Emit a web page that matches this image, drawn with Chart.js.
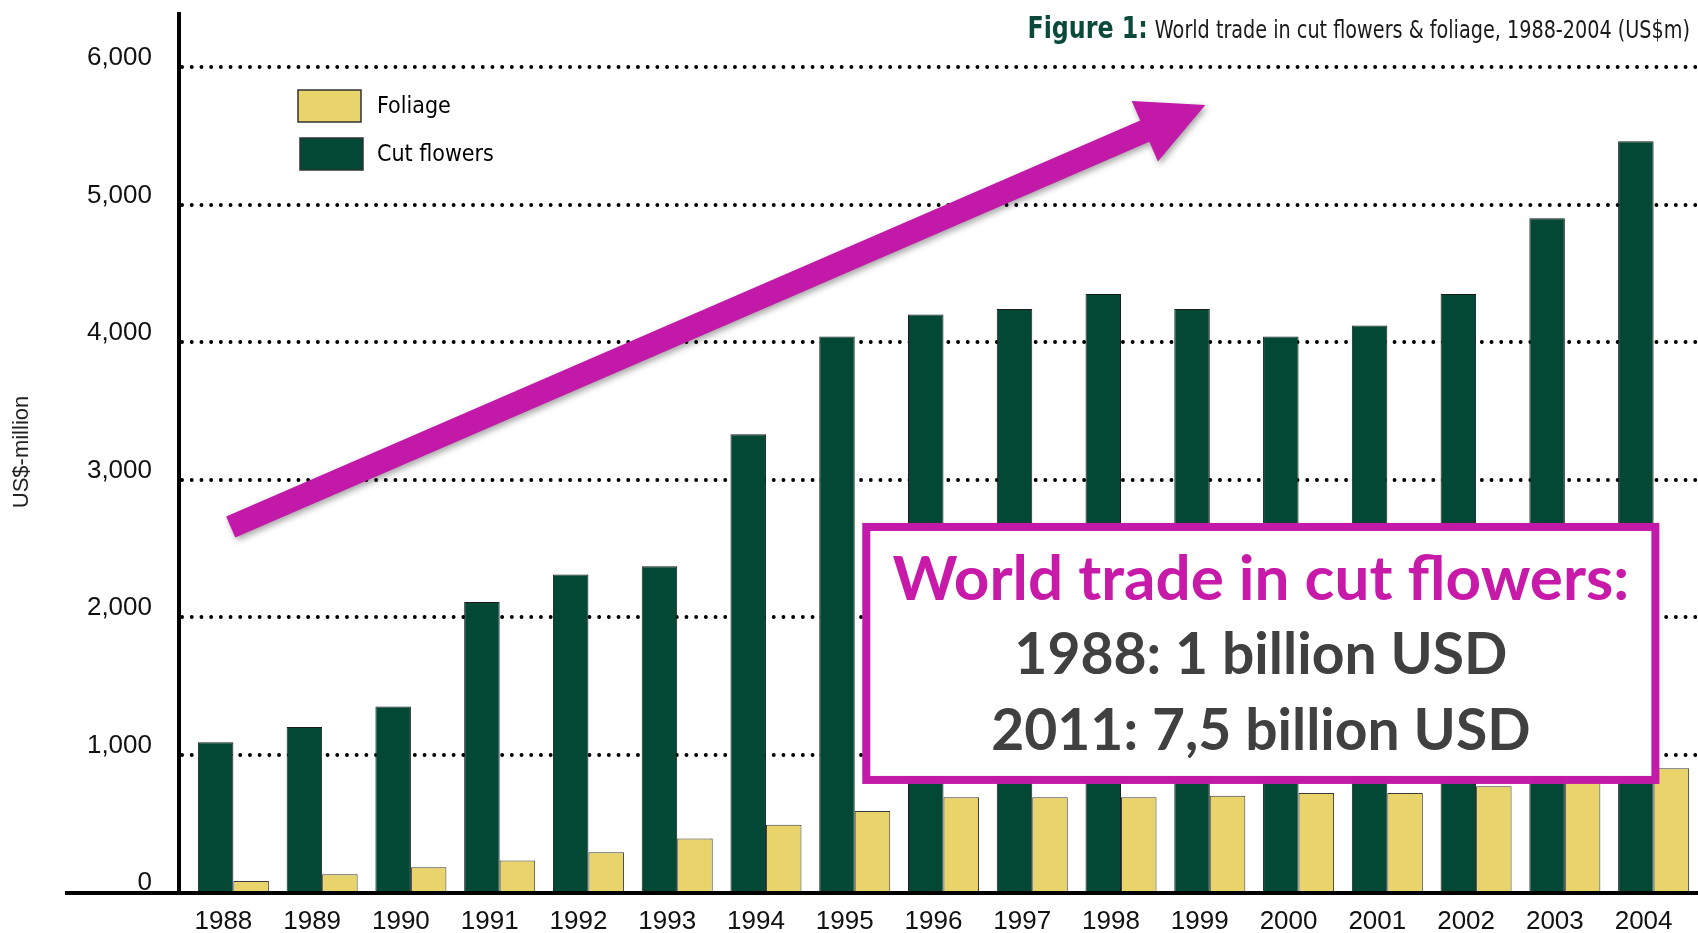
<!DOCTYPE html>
<html>
<head>
<meta charset="utf-8">
<title>World trade in cut flowers &amp; foliage</title>
<script src="https://cdn.jsdelivr.net/npm/chart.js@4.4.1/dist/chart.umd.min.js"></script>
<style>
  html, body { margin: 0; padding: 0; background: #fff; }
  #wrap { position: relative; width: 1698px; height: 933px; }
</style>
</head>
<body>
<div id="wrap"><canvas id="flowerChart"></canvas></div>
<script>
// ---- data (US$ million) ----
const years = ['1988', '1989', '1990', '1991', '1992', '1993', '1994', '1995', '1996',
  '1997', '1998', '1999', '2000', '2001', '2002', '2003', '2004'];
const cutFlowers = [1090, 1200, 1350, 2110, 2310, 2370, 3330, 4040, 4200,
  4240, 4350, 4240, 4040, 4120, 4350, 4900, 5460];
const foliage = [80, 130, 180, 230, 290, 390, 490, 590, 690,
  690, 690, 700, 720, 720, 770, 830, 900];
const yTicks = [0, 1000, 2000, 3000, 4000, 5000, 6000];

const titleBold = 'Figure 1:';
const titleText = 'World trade in cut flowers & foliage, 1988-2004 (US$m)';
const boxLines = ['World trade in cut flowers:', '1988: 1 billion USD', '2011: 7,5 billion USD'];

// annotation anchors in data units: [category index, US$m]
const arrowFrom = [-0.03, 2655];
const arrowTo = [10.95, 5724];
const boxFrom = [7.13, 2655];
const boxTo = [16.02, 815];

const GREEN = '#034834';
const YELLOW = '#e8d46a';
const MAGENTA = '#c219a8';
const NARROW = "'Liberation Sans Narrow', 'DejaVu Sans Condensed', sans-serif";

// arrow, framed note, title, legend and the two heavy axis lines
const overlay = {
  id: 'overlay',
  beforeDatasetsDraw(chart) {
    const { ctx, chartArea: a, scales: { y } } = chart;
    const axisX = a.left - 10;
    ctx.save();
    ctx.strokeStyle = '#000';
    ctx.lineWidth = 3.8;
    ctx.lineCap = 'round';
    ctx.setLineDash([0.1, 9.6]);
    y.ticks.forEach((t) => {
      if (t.value === 0) return;
      const py = Math.round(y.getPixelForValue(t.value));
      ctx.beginPath();
      ctx.moveTo(axisX + 3, py);
      ctx.lineTo(a.right, py);
      ctx.stroke();
    });
    ctx.restore();
  },
  afterDatasetsDraw(chart) {
    const { ctx, chartArea: a, scales: { x, y } } = chart;
    const axisX = a.left - 10;
    const zeroY = y.getPixelForValue(0);

    ctx.save();
    // axes
    ctx.fillStyle = '#000';
    ctx.fillRect(axisX - 2, a.top, 4, zeroY - a.top);
    ctx.fillRect(a.left - 124, zeroY - 1, chart.width, 4);

    // legend (Foliage listed first)
    const items = chart.data.datasets.slice().reverse();
    items.forEach((ds, i) => {
      const bx = a.left + 109 + i * 2;
      const by = a.top + 78 + i * 48;
      ctx.fillStyle = ds.backgroundColor;
      ctx.fillRect(bx, by, 63, 32);
      ctx.strokeStyle = '#333';
      ctx.lineWidth = 1.5;
      ctx.strokeRect(bx, by, 63, 32);
      ctx.fillStyle = '#000';
      ctx.font = '23px ' + NARROW;
      ctx.textAlign = 'left';
      ctx.textBaseline = 'middle';
      ctx.fillText(ds.label, a.left + 188, by + 17);
    });

    // figure title, top right
    ctx.textBaseline = 'middle';
    ctx.textAlign = 'right';
    const tx = chart.width - 8;
    ctx.font = '24px ' + NARROW;
    const w = ctx.measureText(titleText).width * 0.89;
    ctx.save();
    ctx.translate(tx, 32);
    ctx.scale(0.89, 1);
    ctx.fillStyle = '#1a1a1a';
    ctx.fillText(titleText, 0, 0);
    ctx.restore();
    ctx.save();
    ctx.translate(tx - w - 7, 30);
    ctx.scale(0.88, 1);
    ctx.fillStyle = '#0b4a3a';
    ctx.font = 'bold 30px ' + NARROW;
    ctx.fillText(titleBold, 0, 0);
    ctx.restore();

    // magenta arrow
    const x1 = x.getPixelForValue(arrowFrom[0]), y1 = y.getPixelForValue(arrowFrom[1]);
    const x2 = x.getPixelForValue(arrowTo[0]), y2 = y.getPixelForValue(arrowTo[1]);
    const ang = Math.atan2(y2 - y1, x2 - x1);
    const len = Math.hypot(x2 - x1, y2 - y1);
    const shaft = 11.5, headL = 66, headW = 33;
    ctx.translate(x1, y1);
    ctx.rotate(ang);
    ctx.shadowColor = 'rgba(0,0,0,0.35)';
    ctx.shadowBlur = 6;
    ctx.shadowOffsetX = 2;
    ctx.shadowOffsetY = 3;
    ctx.fillStyle = MAGENTA;
    ctx.beginPath();
    ctx.moveTo(0, -shaft);
    ctx.lineTo(len - headL, -shaft);
    ctx.lineTo(len - headL, -headW);
    ctx.lineTo(len, 0);
    ctx.lineTo(len - headL, headW);
    ctx.lineTo(len - headL, shaft);
    ctx.lineTo(0, shaft);
    ctx.closePath();
    ctx.fill();
    ctx.restore();

    // framed note
    ctx.save();
    const bl = x.getPixelForValue(boxFrom[0]), bt = y.getPixelForValue(boxFrom[1]);
    const br = x.getPixelForValue(boxTo[0]), bb = y.getPixelForValue(boxTo[1]);
    ctx.fillStyle = '#fff';
    ctx.fillRect(bl, bt, br - bl, bb - bt);
    ctx.strokeStyle = MAGENTA;
    ctx.lineWidth = 8;
    ctx.strokeRect(bl, bt, br - bl, bb - bt);
    const cx = (bl + br) / 2, h = bb - bt;
    ctx.textAlign = 'center';
    ctx.textBaseline = 'middle';
    ctx.font = "bold 62px Lato, 'Open Sans', sans-serif";
    ctx.fillStyle = '#c71aa9';
    ctx.fillText(boxLines[0], cx, bt + h * 0.21);
    ctx.fillStyle = '#404040';
    ctx.font = "bold 57px Lato, 'Open Sans', sans-serif";
    ctx.fillText(boxLines[1], cx, bt + h * 0.51);
    ctx.fillText(boxLines[2], cx, bt + h * 0.81);
    ctx.restore();
  }
};

new Chart(document.getElementById('flowerChart'), {
  type: 'bar',
  data: {
    labels: years,
    datasets: [
      {
        label: 'Cut flowers',
        data: cutFlowers,
        backgroundColor: GREEN,
        borderColor: '#1c1c1c',
        borderWidth: 1
      },
      {
        label: 'Foliage',
        data: foliage,
        backgroundColor: YELLOW,
        borderColor: '#3a3a3a',
        borderWidth: 1
      }
    ]
  },
  options: {
    responsive: true,
    maintainAspectRatio: false,
    animation: false,
    devicePixelRatio: 1,
    layout: { padding: { top: 12, right: 0, bottom: 0, left: 0 } },
    datasets: { bar: { categoryPercentage: 0.8, barPercentage: 1.0 } },
    plugins: {
      legend: { display: false },
      title: { display: false },
      tooltip: { enabled: false }
    },
    scales: {
      x: {
        grid: { display: false, drawTicks: false },
        border: { display: false },
        ticks: {
          color: '#111',
          font: { family: "'Liberation Sans', Arial, sans-serif", size: 26 },
          padding: 14,
          labelOffset: -10,
          maxRotation: 0,
          autoSkip: false
        },
        afterFit: (s) => { s.height = 41; s.paddingLeft = 0; s.paddingRight = 0; }
      },
      y: {
        min: 0,
        max: 6400,
        afterBuildTicks: (s) => { s.ticks = yTicks.map((v) => ({ value: v })); },
        grid: { display: false, drawTicks: false },
        border: { display: false },
        ticks: {
          color: '#111',
          font: { family: "'Liberation Sans', Arial, sans-serif", size: 26 },
          padding: 37,
          labelOffset: -9,
          callback: (v) => Number(v).toLocaleString('en-US')
        },
        title: {
          display: true,
          text: 'US$-million',
          color: '#222',
          font: { family: "'Liberation Sans', Arial, sans-serif", size: 22 },
          padding: { top: 9, bottom: 0 }
        },
        afterFit: (s) => { s.width = 189; s.paddingTop = 0; s.paddingBottom = 0; }
      }
    }
  },
  plugins: [overlay]
});
</script>
</body>
</html>
